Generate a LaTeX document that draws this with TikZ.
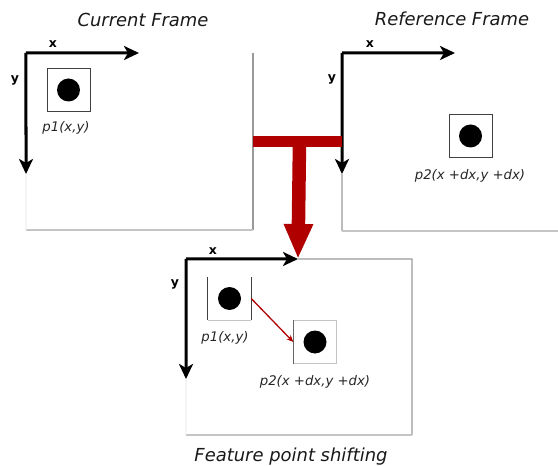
\documentclass[tikz,border=0pt]{standalone}
\usepackage{fontspec}
\setmainfont{DejaVu Sans}
\usetikzlibrary{arrows.meta}
\definecolor{tred}{HTML}{B00000}
\definecolor{edgeg}{HTML}{9A9A9A}
\definecolor{edgel}{HTML}{C4C4C4}
\definecolor{edgef}{HTML}{EEEEEE}
\tikzset{
  framenode/.style={draw=none, inner sep=0pt, outer sep=0pt},
  edge/.style={draw=edgeg, line width=1.3bp},
  edgelight/.style={draw=edgel, line width=1.3bp},
  edgefaint/.style={draw=edgef, line width=1.3bp},
  axis/.style={draw=black, line width=3bp, -{Stealth[length=15bp,width=14bp,inset=4bp]}},
  axlabel/.style={font=\fontsize{12.5}{14}\selectfont\bfseries, inner sep=0pt},
  title/.style={font=\fontsize{18}{21}\selectfont\itshape, text=black!90, inner sep=0pt},
  plabel/.style={font=\fontsize{13.3}{15}\selectfont\itshape, text=black!85, inner sep=0pt},
  featbox/.style={draw=black!75, line width=1bp, minimum size=43bp, inner sep=0pt},
  featboxbare/.style={draw=none, minimum size=43bp, inner sep=0pt},
  dot/.style={circle, fill=black, minimum size=23bp, inner sep=0pt},
  redbar/.style={draw=tred, line width=11bp},
  redstem/.style={draw=tred, line width=13.5bp, -{Triangle[length=35bp,width=27bp]}},
  shiftarrow/.style={draw=tred, line width=1.3bp, -{Stealth[length=7bp,width=6bp]}},
}
\begin{document}
\begin{tikzpicture}[x=1bp,y=-1bp]
\useasboundingbox (0,0) rectangle (558,466);

% ---------- Current Frame ----------
\node[title] (t1) at (143,20) {Current Frame};
\node[framenode, minimum width=227bp, minimum height=177bp] (F1) at (139.5,141.5) {};
\coordinate (F1x) at (139,53);
\coordinate (F1y) at (26,174);
\draw[edge] (F1.north east) -- (F1.south east);
\draw[edgelight] (F1.south east) -- (F1.south west);
\draw[edgefaint] (F1.south west) -- (F1y);
\draw[axis] (F1.north west) -- (F1x);
\draw[axis] (F1.north west) -- (F1y);
\node[axlabel] (x1) at (53,44) {x};
\node[axlabel] (y1) at (15,80) {y};
\node[featbox] (b1) at (68.5,90) {};
\node[dot] (d1) at (b1) {};
\node[plabel] (l1) at (66,128) {p1(x,y)};

% ---------- Reference Frame ----------
\node[title] (t2) at (452,19) {Reference Frame};
\node[framenode, minimum width=216bp, minimum height=178bp] (F2) at (450,142) {};
\coordinate (F2x) at (455,53);
\coordinate (F2y) at (342,174);
\draw[edge] (F2y) -- (F2.south west);
\draw[edgelight] (F2.south west) -- (F2.south east);
\draw[axis] (F2.north west) -- (F2x);
\draw[axis] (F2.north west) -- (F2y);
\node[axlabel] (x2) at (370,44) {x};
\node[axlabel] (y2) at (332,79) {y};
\node[featbox] (b2) at (470.5,136) {};
\node[dot] (d2) at (b2) {};
\node[plabel] (l2) at (470,176) {p2(x +dx,y +dx)};

% ---------- Result frame ----------
\node[framenode, minimum width=226bp, minimum height=176bp] (F3) at (299,347) {};
\coordinate (F3x) at (298,259);
\coordinate (F3y) at (186,379);
\draw[edge] (F3x) -- (F3.north east) -- (F3.south east);
\draw[edgelight] (F3.south east) -- (F3.south west);
\draw[edgefaint] (F3.south west) -- (F3y);
\draw[axis] (F3.north west) -- (F3x);
\draw[axis] (F3.north west) -- (F3y);
\node[axlabel] (x3) at (213,251) {x};
\node[axlabel] (y3) at (175,284) {y};
\node[featboxbare] (b3) at (229.5,298.5) {};
\draw[edgelight] (b3.south west) -- (b3.south east);
\draw[draw=black!75, line width=1bp] (b3.north west) -- (b3.south west);
\draw[draw=black!75, line width=1bp] (b3.north east) -- (b3.south east);
\node[dot] (d3) at (b3) {};
\node[plabel] (l3) at (225,338) {p1(x,y)};
\node[featboxbare] (b4) at (315,342) {};
\draw[edgel, line width=1bp] (b4.north west) rectangle (b4.south east);
\draw[draw=black!60, line width=1bp] (b4.north west) -- (b4.south west);
\node[dot] (d4) at (b4) {};
\node[plabel] (l4) at (315,382) {p2(x +dx,y +dx)};
\draw[shiftarrow] (b3.east) -- (b4.west);
\node[title] (t3) at (291,457) {Feature point shifting};

% ---------- red T connector ----------
\coordinate (tl) at (F1.east |- 0,141.5);
\coordinate (tr) at (F2.west |- 0,141.5);
\coordinate (tm) at (299.5,141.5);
\draw[redbar] (tl) -- (tr);
\draw[redstem] (tm) -- (F3x);
\end{tikzpicture}
\end{document}
